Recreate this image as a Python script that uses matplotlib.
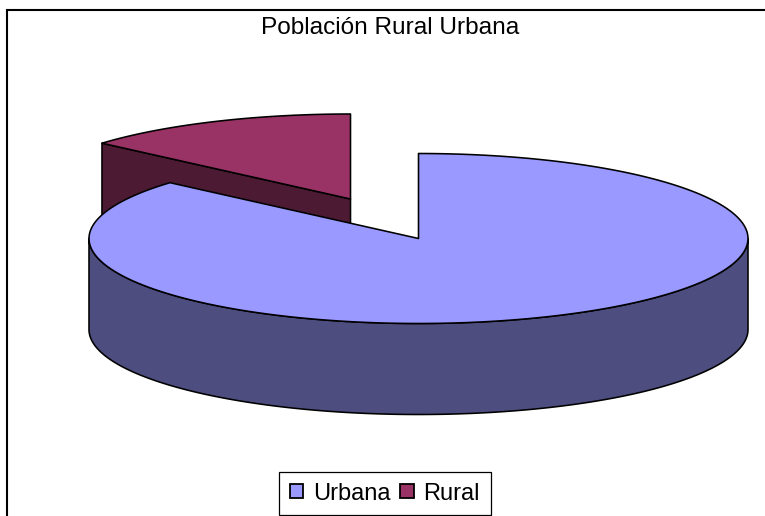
import matplotlib
matplotlib.use("Agg")
import matplotlib.pyplot as plt
import numpy as np
from matplotlib.patches import Polygon, Patch

categories = ["Urbana", "Rural"]
values = [86.4, 13.6]
title = "Población Rural Urbana"

top_colors = ["#9999FF", "#993366"]
side_colors = ["#4D4D80", "#4D1A33"]

# pie geometry, in pixels
cx, cy = 418.5, 238.5
rx, ry = 329.5, 85
depth = 91
explode_x, explode_y = -68, -39.5

plt.rcParams["font.family"] = ["Liberation Sans", "DejaVu Sans"]

fig = plt.figure(figsize=(7.65, 5.16), dpi=100)
ax = fig.add_axes([0, 0, 1, 1])
ax.set_xlim(0, 765)
ax.set_ylim(516, 0)
ax.axis("off")


def arc(x0, y0, a, b):
    t = np.radians(np.linspace(a, b, 240))
    return np.column_stack([x0 + rx * np.sin(t), y0 - ry * np.cos(t)])


def poly(pts, color, zorder):
    ax.add_patch(Polygon(pts, closed=True, facecolor=color, edgecolor="black",
                         linewidth=1.15, joinstyle="round", zorder=zorder))


# angles run clockwise from the top, Urbana first
urb_end = 360 * values[0] / sum(values)

# rural slice, pulled out
rx0, ry0 = cx + explode_x, cy + explode_y
rural_arc = arc(rx0, ry0, urb_end, 360)
apex = np.array([[rx0, ry0]])
edge = rural_arc[0]
cut = np.array([edge, apex[0], apex[0] + [0, depth], edge + [0, depth]])
poly(cut, side_colors[1], 1)
poly(np.vstack([apex, rural_arc]), top_colors[1], 2)

# urbana side wall, only the front half shows
front = arc(cx, cy, 90, 270)
wall = np.vstack([front, front[::-1] + [0, depth]])
poly(wall, side_colors[0], 3)
poly(np.vstack([[[cx, cy]], arc(cx, cy, 0, urb_end)]), top_colors[0], 4)

# chart frame, open at right and bottom
ax.plot([7, 7, 765], [516, 10, 10], color="black", lw=1.5, zorder=5,
        solid_joinstyle="miter")

ax.text(390.5, 28, title, ha="center", va="center", fontsize=17.6, color="black")

handles = [Patch(facecolor=c, edgecolor="black", linewidth=1.3) for c in top_colors]
leg = ax.legend(handles, categories, ncol=2, loc="center",
                bbox_to_anchor=(385, 493.5), bbox_transform=ax.transData,
                fontsize=17, frameon=True, fancybox=False, framealpha=1,
                edgecolor="black", handlelength=0.57, handleheight=0.57,
                handletextpad=0.42, columnspacing=0.4, borderpad=0.45,
                borderaxespad=0)
leg.get_frame().set_linewidth(0.9)

fig.savefig("out.png", dpi=100)
